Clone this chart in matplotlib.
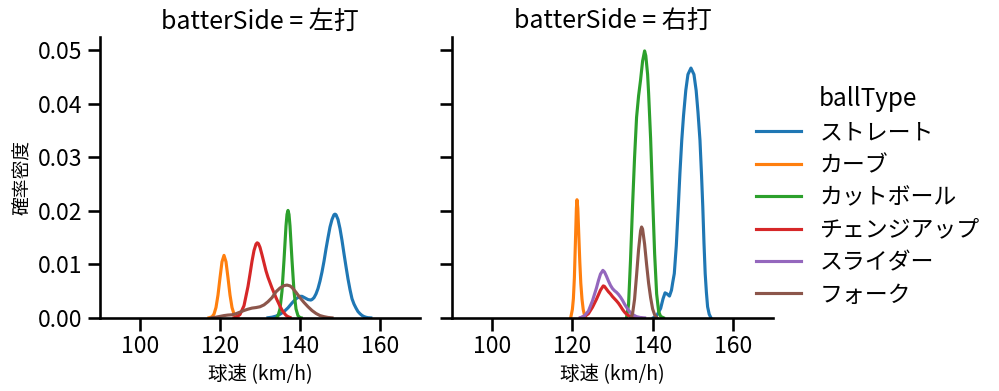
import numpy as np
import matplotlib.pyplot as plt

plt.rcParams['font.family'] = ['Noto Sans CJK JP', 'DejaVu Sans']

ball_types = ['ストレート', 'カーブ', 'カットボール', 'チェンジアップ', 'スライダー', 'フォーク']
sides = ['左打', '右打']
colors = ['#1f77b4', '#ff7f0e', '#2ca02c', '#d62728', '#9467bd', '#8c564b']

# density curves (speed in km/h, density in 1/1000)
# batterSide = 左打
l_straight_kmh = [132, 133, 134, 135, 136, 137, 138, 139, 140, 140.5, 141, 142, 142.7, 143, 143.5, 144, 144.5,
                  145, 145.5, 146, 146.5, 147, 147.5, 148, 148.5, 148.75, 149, 149.5, 150, 150.5, 151, 151.5,
                  152, 152.5, 153, 153.5, 154, 154.5, 155, 155.5, 156, 156.5, 157, 157.7]
l_straight_dens = [0.05, 0.15, 0.35, 0.7, 1.2, 1.9, 2.8, 3.6, 4.05, 4.05, 3.85, 3.45, 3.35, 3.45, 3.8, 4.5, 5.5,
                   6.9, 8.6, 10.6, 12.9, 15.0, 17.0, 18.4, 19.3, 19.4, 19.3, 18.4, 16.7, 14.5, 12.0, 9.6,
                   7.3, 5.3, 3.6, 2.6, 1.85, 1.2, 0.8, 0.48, 0.27, 0.14, 0.06, 0.02]
l_curve_kmh = [117.25, 118, 118.5, 119, 119.5, 120, 120.5, 121, 121.5, 122, 122.5, 123, 123.5, 124, 124.5]
l_curve_dens = [0.05, 0.21, 0.73, 1.97, 4.3, 7.5, 10.5, 11.7, 10.5, 7.5, 4.3, 1.97, 0.73, 0.21, 0.05]
l_cutter_kmh = [134.2, 134.5, 135, 135.5, 136, 136.5, 136.75, 137, 137.25, 137.5, 138, 138.5, 139, 139.5, 140, 140.3]
l_cutter_dens = [0.1, 0.42, 1.7, 5.0, 10.8, 17.2, 19.35, 20.1, 19.35, 17.2, 10.8, 5.0, 1.7, 0.42, 0.08, 0.03]
l_change_kmh = [123.5, 124, 125, 126, 127, 127.5, 128, 128.5, 129, 129.3, 129.6, 130, 130.5, 131, 131.5, 132,
                132.5, 133, 133.5, 134, 134.5, 135, 135.5, 136, 136.5, 137, 137.5]
l_change_dens = [0.05, 0.15, 0.65, 2.3, 5.9, 8.2, 10.6, 12.6, 13.8, 14.05, 13.9, 13.2, 11.8, 10.3, 8.8, 7.6,
                 6.6, 5.6, 4.7, 3.8, 3.0, 2.2, 1.5, 0.95, 0.5, 0.25, 0.1]
l_slider_kmh = []
l_slider_dens = []
l_fork_kmh = [118, 119, 120, 121, 122, 123, 124, 125, 126, 127, 128, 129, 130, 131, 132, 133, 134, 135, 136,
              136.75, 137.5, 138, 139, 140, 141, 142, 143, 144, 145, 146, 147, 148]
l_fork_dens = [0.05, 0.15, 0.3, 0.45, 0.55, 0.6, 0.8, 1.1, 1.4, 1.65, 1.85, 1.95, 2.1, 2.45, 3.05, 3.8, 4.9,
               5.6, 6.05, 6.15, 6.0, 5.7, 4.8, 3.8, 2.9, 2.1, 1.4, 0.85, 0.45, 0.25, 0.1, 0.03]

# batterSide = 右打
r_straight_kmh = [140.2, 141.0, 142.0, 142.6, 143.1, 143.6, 144.2, 144.7, 145.0, 145.4, 145.9, 146.4, 146.8,
                  147.26, 147.7, 148.26, 148.8, 149.55, 150.3, 150.85, 151.3, 151.8, 152.2, 152.5, 152.8,
                  153.1, 153.4, 153.7, 154.1, 154.5]
r_straight_dens = [0.05, 0.4, 1.8, 3.6, 4.7, 4.5, 4.1, 5.2, 6.6, 8.3, 13.5, 20.8, 27.0, 33.2, 37.8, 42.5, 45.5,
                   46.7, 45.5, 42.5, 38.5, 33.2, 26.5, 20.8, 14.0, 8.3, 4.8, 2.1, 0.7, 0.1]
r_curve_kmh = [119.6, 120.0, 120.25, 120.5, 120.75, 121.0, 121.15, 121.35, 121.6, 121.85, 122.1, 122.4, 122.7,
               123.0, 123.3]
r_curve_dens = [0.1, 1.6, 3.6, 7.5, 14.0, 20.5, 22.1, 20.5, 15.5, 10.5, 6.5, 3.5, 1.6, 0.6, 0.1]
r_cutter_kmh = [133.5, 134, 134.5, 135, 135.5, 136, 136.5, 137, 137.5, 138, 138.3, 138.75, 139, 139.5, 140,
                140.5, 141, 141.5, 142, 142.7]
r_cutter_dens = [0.1, 2.5, 11.0, 21.0, 30.0, 37.5, 41.5, 44.5, 48.0, 49.9, 49.0, 45.5, 42.0, 33.5, 22.5, 12.0,
                 4.5, 1.2, 0.3, 0.05]
r_change_kmh = [122, 123, 124, 125, 126, 127, 127.7, 128, 128.5, 129, 129.5, 130, 130.5, 131, 131.5, 132,
                132.5, 133, 133.5, 134, 134.5, 135, 136, 137]
r_change_dens = [0.03, 0.25, 0.8, 2.0, 3.5, 5.2, 6.0, 5.9, 5.4, 4.9, 4.5, 4.0, 3.6, 3.2, 2.75, 2.2, 1.6, 1.1,
                 0.7, 0.45, 0.3, 0.2, 0.1, 0.03]
r_slider_kmh = [122, 123, 124, 125, 126, 126.5, 127, 127.6, 128, 128.5, 129, 129.5, 130, 130.5, 131, 131.5,
                132, 132.5, 133, 133.5, 134, 134.5, 135, 136, 137, 138]
r_slider_dens = [0.05, 0.4, 1.3, 3.2, 5.6, 7.0, 8.2, 8.9, 8.6, 7.8, 6.9, 6.1, 5.5, 5.1, 4.8, 4.4, 3.9, 3.3, 2.6,
                 2.0, 1.45, 1.0, 0.65, 0.25, 0.08, 0.02]
r_fork_kmh = [134.6, 135.0, 135.5, 136.0, 136.5, 137.0, 137.25, 137.5, 138.0, 138.5, 139.0, 139.5, 140.0,
              140.5, 141.0]
r_fork_dens = [0.1, 0.8, 3.5, 8.0, 12.8, 16.3, 17.0, 16.6, 13.8, 10.0, 6.5, 3.8, 1.7, 0.6, 0.1]

curves = {
    '左打': [(l_straight_kmh, l_straight_dens), (l_curve_kmh, l_curve_dens), (l_cutter_kmh, l_cutter_dens),
           (l_change_kmh, l_change_dens), (l_slider_kmh, l_slider_dens), (l_fork_kmh, l_fork_dens)],
    '右打': [(r_straight_kmh, r_straight_dens), (r_curve_kmh, r_curve_dens), (r_cutter_kmh, r_cutter_dens),
           (r_change_kmh, r_change_dens), (r_slider_kmh, r_slider_dens), (r_fork_kmh, r_fork_dens)],
}

fig = plt.figure(figsize=(9.99, 3.91), dpi=100)
W, H = 999, 391
axes = [fig.add_axes([100 / W, 73 / H, 320 / W, 281 / H]),
        fig.add_axes([452 / W, 73 / H, 321 / W, 281 / H])]

handles = []
for ax, side in zip(axes, sides):
    for i, (x, y) in enumerate(curves[side]):
        line, = ax.plot(x, np.array(y) / 1000, color=colors[i], lw=2.25)
        if side == '右打':
            handles.append(line)
    ax.set_xlim(90, 170)
    ax.set_ylim(0, 0.0525)
    ax.set_xticks([100, 120, 140, 160])
    ax.set_yticks([0, 0.01, 0.02, 0.03, 0.04, 0.05])
    ax.set_yticklabels(['0.00', '0.01', '0.02', '0.03', '0.04', '0.05'])
    ax.tick_params(labelsize=16.5, width=1.875, length=9, pad=3.5)
    for s in ['top', 'right']:
        ax.spines[s].set_visible(False)
    for s in ['left', 'bottom']:
        ax.spines[s].set_linewidth(1.875)
    ax.set_title('batterSide = ' + side, fontsize=18)
    ax.set_xlabel('球速 (km/h)', fontsize=14)

axes[0].set_ylabel('確率密度', fontsize=13.5)
axes[1].tick_params(axis='y', labelleft=False)

fig.legend(handles, ball_types, title='ballType', loc='center left', bbox_to_anchor=(735 / W, 0.498),
           frameon=False, fontsize=16.5, title_fontsize=17.5, handlelength=2, labelspacing=0.41)

fig.savefig('out.png', dpi=100)
